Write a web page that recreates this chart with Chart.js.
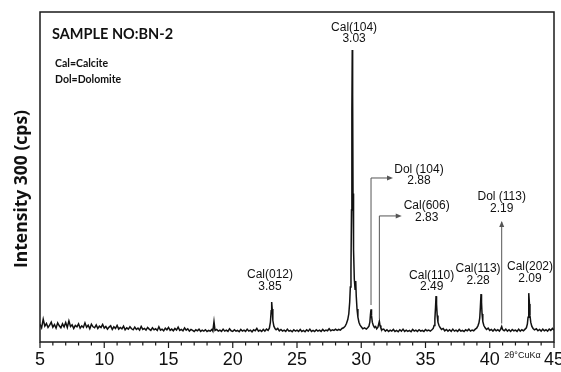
<!DOCTYPE html>
<html>
<head>
<meta charset="utf-8">
<script src="https://cdn.jsdelivr.net/npm/chart.js@4/dist/chart.umd.min.js"></script>
<style>
  html, body { margin: 0; padding: 0; background: #fff; }
  #caixa { position: relative; width: 561px; height: 372px; }
</style>
</head>
<body>
<div id="caixa"><canvas id="graficoXrd"></canvas></div>
<script>
// 2theta (deg) and intensity, one line of angles per line of counts
const angles = [
  5.000, 5.125, 5.250, 5.375, 5.500, 5.625, 5.750, 5.875, 6.000, 6.125, 6.250, 6.375,
  6.500, 6.625, 6.750, 6.875, 7.000, 7.125, 7.250, 7.375, 7.500, 7.625, 7.750, 7.875,
  8.000, 8.125, 8.250, 8.375, 8.500, 8.625, 8.750, 8.875, 9.000, 9.125, 9.250, 9.375,
  9.500, 9.625, 9.750, 9.875, 10.000, 10.125, 10.250, 10.375, 10.500, 10.625, 10.750, 10.875,
  11.000, 11.125, 11.250, 11.375, 11.500, 11.625, 11.750, 11.875, 12.000, 12.125, 12.250, 12.375,
  12.500, 12.625, 12.750, 12.875, 13.000, 13.125, 13.250, 13.375, 13.500, 13.625, 13.750, 13.875,
  14.000, 14.125, 14.250, 14.375, 14.500, 14.625, 14.750, 14.875, 15.000, 15.125, 15.250, 15.375,
  15.500, 15.625, 15.750, 15.875, 16.000, 16.125, 16.250, 16.375, 16.500, 16.625, 16.750, 16.875,
  17.000, 17.125, 17.250, 17.375, 17.500, 17.625, 17.750, 17.875, 18.000, 18.125, 18.250, 18.375,
  18.450, 18.540, 18.620, 18.750, 18.875, 19.000, 19.125, 19.250, 19.375, 19.500, 19.625, 19.750,
  19.875, 20.000, 20.125, 20.250, 20.375, 20.500, 20.625, 20.750, 20.875, 21.000, 21.125, 21.250,
  21.375, 21.500, 21.625, 21.750, 21.875, 22.000, 22.125, 22.250, 22.375, 22.500, 22.625, 22.750,
  22.850, 22.930, 22.990, 23.030, 23.070, 23.120, 23.200, 23.300,
  23.375, 23.500, 23.625, 23.750, 23.875, 24.000, 24.125, 24.250, 24.375, 24.500, 24.625, 24.750,
  24.875, 25.000, 25.125, 25.250, 25.375, 25.500, 25.625, 25.750, 25.875, 26.000, 26.125, 26.250,
  26.375, 26.500, 26.625, 26.750, 26.875, 27.000, 27.125, 27.250, 27.375, 27.500, 27.625, 27.750,
  27.875, 28.000, 28.125, 28.250, 28.375, 28.500,
  28.620, 28.750, 28.850, 28.950, 29.030, 29.100, 29.150, 29.200, 29.240, 29.270, 29.300, 29.330,
  29.360, 29.400, 29.460, 29.520, 29.570, 29.610, 29.670, 29.740, 29.820, 29.900, 30.000, 30.120,
  30.250, 30.400, 30.500,
  30.600, 30.670, 30.720, 30.760, 30.800, 30.860, 30.940, 31.030, 31.120, 31.200, 31.300, 31.360,
  31.410, 31.460, 31.530, 31.620,
  31.750, 31.875, 32.000, 32.125, 32.250, 32.375, 32.500, 32.625, 32.750, 32.875, 33.000, 33.125,
  33.250, 33.375, 33.500, 33.625, 33.750, 33.875, 34.000, 34.125, 34.250, 34.375, 34.500, 34.625,
  34.750, 34.875, 35.000, 35.125, 35.250, 35.375, 35.500,
  35.600, 35.670, 35.730, 35.780, 35.820, 35.860, 35.910, 35.970, 36.050, 36.150, 36.250,
  36.375, 36.500, 36.625, 36.750, 36.875, 37.000, 37.125, 37.250, 37.375, 37.500, 37.625, 37.750,
  37.875, 38.000, 38.125, 38.250, 38.375, 38.500, 38.625, 38.750, 38.875,
  38.980, 39.080, 39.160, 39.220, 39.270, 39.320, 39.360, 39.400, 39.460, 39.540, 39.640, 39.750,
  39.875, 40.000, 40.125, 40.250, 40.375, 40.500, 40.625, 40.750, 40.850, 40.930, 41.000, 41.125,
  41.250, 41.375, 41.500, 41.625, 41.750, 41.875, 42.000, 42.125, 42.250, 42.375, 42.500, 42.625,
  42.750,
  42.850, 42.930, 42.980, 43.020, 43.050, 43.090, 43.130, 43.190, 43.270, 43.370, 43.480,
  43.625, 43.750, 43.875, 44.000, 44.125, 44.250, 44.375, 44.500, 44.625, 44.750, 44.875, 45.000
];
const counts = [
  5.4, 4.3, 6.9, 4.8, 5.6, 4.4, 5.1, 6.0, 4.5, 5.3, 4.2, 5.8,
  4.9, 4.3, 5.5, 4.6, 5.9, 4.4, 6.4, 4.7, 5.2, 4.1, 5.0, 4.6,
  5.5, 4.2, 4.9, 4.4, 5.8, 4.5, 5.1, 4.0, 5.4, 4.6, 4.3, 5.2,
  4.1, 4.8, 4.4, 5.3, 4.2, 4.7, 3.9, 4.5, 4.9, 3.8, 4.6, 4.1,
  5.0, 3.9, 4.4, 4.0, 4.8, 3.7, 4.3, 3.9, 4.6, 4.0, 3.7, 4.5,
  3.8, 4.2, 3.6, 4.7, 3.8, 4.1, 3.6, 4.4, 3.9, 3.5, 4.3, 3.7,
  4.0, 3.5, 4.6, 3.6, 3.9, 3.4, 4.2, 3.7, 4.4, 3.5, 3.9, 3.4,
  4.1, 3.6, 4.5, 3.5, 3.8, 3.4, 4.3, 3.6, 4.0, 3.3, 3.8, 3.5,
  3.2, 3.7, 3.4, 3.9, 3.2, 3.6, 3.3, 3.7, 3.2, 3.5, 3.3, 3.8,
  3.3, 6.2, 3.5, 3.8, 3.3, 3.6, 3.2, 3.9, 3.3, 3.6, 3.2, 4.0,
  3.4, 3.2, 3.7, 3.3, 3.5, 3.1, 3.8, 3.3, 3.6, 3.2, 3.9, 3.3,
  3.6, 3.1, 3.7, 3.4, 4.1, 3.3, 3.6, 3.2, 3.8, 3.3, 3.9, 3.5,
  4.2, 6.0, 9.5, 12.1, 10.0, 6.5, 4.8, 4.0,
  3.7, 4.1, 3.4, 3.8, 3.3, 3.6, 3.2, 3.9, 3.3, 3.5, 3.1, 3.7,
  3.3, 3.6, 3.2, 3.8, 3.2, 3.5, 3.1, 3.7, 3.3, 3.9, 3.2, 3.5,
  3.2, 3.7, 3.3, 3.6, 3.2, 3.8, 3.3, 3.6, 3.4, 4.0, 3.4, 3.7,
  3.5, 3.9, 3.5, 3.8, 3.6, 4.1,
  4.3, 4.8, 5.6, 6.8, 8.5, 12.0, 16.7, 22.0, 40.0, 70.0, 88.5, 75.0,
  45.0, 28.0, 19.0, 16.0, 18.5, 14.0, 10.0, 7.5, 6.0, 5.2, 4.6, 4.0,
  4.3, 3.9, 4.3,
  4.8, 6.0, 8.5, 9.9, 8.0, 6.0, 5.0, 4.4, 4.7, 4.0, 4.5, 5.5,
  6.3, 5.0, 4.2, 3.7,
  3.9, 3.3, 3.7, 3.2, 3.6, 3.3, 3.8, 3.2, 3.5, 3.1, 3.7, 3.3,
  3.9, 3.2, 3.6, 3.2, 3.5, 3.1, 3.8, 3.3, 3.6, 3.2, 3.7, 3.3,
  3.5, 3.2, 3.8, 3.4, 3.6, 3.3, 3.7,
  4.1, 5.0, 7.0, 10.5, 13.9, 11.5, 8.0, 6.0, 5.0, 4.3, 3.8,
  4.1, 3.4, 3.8, 3.3, 3.7, 3.2, 3.9, 3.3, 3.6, 3.2, 3.8, 3.3,
  3.5, 3.2, 3.7, 3.4, 3.9, 3.3, 3.6, 3.4, 3.9,
  4.2, 4.9, 5.8, 7.2, 10.5, 14.5, 12.0, 8.5, 6.2, 5.0, 4.3, 3.8,
  4.2, 3.5, 3.8, 3.3, 3.9, 3.4, 3.7, 3.3, 3.9, 4.7, 3.8, 3.4,
  3.9, 3.3, 3.7, 3.2, 3.8, 3.4, 3.6, 3.2, 3.9, 3.3, 3.7, 3.4,
  3.9,
  4.3, 5.5, 7.5, 11.0, 14.8, 11.5, 8.0, 6.0, 4.8, 4.1, 3.7,
  4.0, 3.4, 3.8, 3.3, 3.9, 3.4, 3.7, 3.3, 3.9, 3.5, 4.1, 3.6
];

// peak labels
const peakNames = ["Cal(012)", "Cal(104)", "Dol (104)", "Cal(606)", "Cal(110)", "Cal(113)", "Dol (113)", "Cal(202)"];
const peakSpacings = ["3.85", "3.03", "2.88", "2.83", "2.49", "2.28", "2.19", "2.09"];
const peakAngles = [23.03, 29.30, 30.76, 31.41, 35.82, 39.32, 40.93, 43.05];

const tickLabels = [5, 10, 15, 20, 25, 30, 35, 40, 45];

// where each label sits (angle, intensity of first row) and how it is tied to the peak
const labelSpots = [
  { at: 22.90, level: 20.3 },
  { at: 29.44, level: 95.3 },
  { at: 34.49, level: 52.3, arrow: "right", from: 11.2, to: 49.7, tip: 32.47 },
  { at: 35.09, level: 41.2, arrow: "right", from: 6.9, to: 38.2, tip: 33.15 },
  { at: 35.48, level: 20.1 },
  { at: 39.09, level: 22.1 },
  { at: 40.93, level: 44.0, arrow: "up", from: 5.6, to: 36.4 },
  { at: 43.13, level: 22.8 }
];

const decoracao = {
  id: "decoracao",
  afterDatasetsDraw(chart) {
    const { ctx, chartArea, scales } = chart;
    const x = scales.x;
    const y = scales.y;
    ctx.save();

    // frame
    ctx.strokeStyle = "#1a1a1a";
    ctx.lineWidth = 1.5;
    ctx.strokeRect(chartArea.left, chartArea.top, chartArea.right - chartArea.left, chartArea.bottom - chartArea.top);

    // ticks, minor every degree
    ctx.lineWidth = 1.2;
    for (let t = tickLabels[0]; t <= tickLabels[tickLabels.length - 1]; t++) {
      const px = x.getPixelForValue(t);
      ctx.beginPath();
      ctx.moveTo(px, chartArea.bottom);
      ctx.lineTo(px, chartArea.bottom + (t % 5 === 0 ? 6 : 3.5));
      ctx.stroke();
    }
    ctx.fillStyle = "#111";
    ctx.font = "18px 'Liberation Sans', Arial, sans-serif";
    ctx.textAlign = "center";
    ctx.textBaseline = "middle";
    tickLabels.forEach((t) => {
      ctx.fillText(String(t), x.getPixelForValue(t), chartArea.bottom + 18);
    });
    ctx.font = "9px 'Liberation Sans', Arial, sans-serif";
    ctx.fillText("2\u03b8\u00b0CuK\u03b1", x.getPixelForValue(42.55), chartArea.bottom + 14);

    // axis title
    ctx.save();
    ctx.translate(22, (chartArea.top + chartArea.bottom) / 2 + 12);
    ctx.rotate(-Math.PI / 2);
    ctx.font = "bold 17.5px 'Open Sans', Lato, sans-serif";
    ctx.fillText("Intensity 300 (cps)", 0, 0);
    ctx.restore();

    // sample caption
    ctx.textAlign = "left";
    ctx.font = "bold 14.5px Lato, 'Open Sans', sans-serif";
    ctx.fillText("SAMPLE NO:BN-2", chartArea.left + 12, chartArea.top + 22);
    ctx.font = "bold 10.5px Lato, 'Open Sans', sans-serif";
    ctx.fillText("Cal=Calcite", chartArea.left + 15, chartArea.top + 52);
    ctx.fillText("Dol=Dolomite", chartArea.left + 15, chartArea.top + 68);

    // peak labels and arrows
    ctx.strokeStyle = "#555";
    ctx.fillStyle = "#555";
    ctx.lineWidth = 1;
    labelSpots.forEach((s, i) => {
      if (!s.arrow) return;
      const px = x.getPixelForValue(peakAngles[i]);
      const y0 = y.getPixelForValue(s.from);
      const y1 = y.getPixelForValue(s.to);
      ctx.beginPath();
      ctx.moveTo(px, y0);
      ctx.lineTo(px, y1);
      if (s.arrow === "right") {
        const tx = x.getPixelForValue(s.tip);
        ctx.lineTo(tx - 5, y1);
        ctx.stroke();
        ctx.beginPath();
        ctx.moveTo(tx, y1);
        ctx.lineTo(tx - 6, y1 - 2.5);
        ctx.lineTo(tx - 6, y1 + 2.5);
        ctx.closePath();
        ctx.fill();
      } else {
        ctx.stroke();
        ctx.beginPath();
        ctx.moveTo(px, y1 - 1);
        ctx.lineTo(px - 2.5, y1 + 5);
        ctx.lineTo(px + 2.5, y1 + 5);
        ctx.closePath();
        ctx.fill();
      }
    });
    ctx.fillStyle = "#111";
    ctx.textAlign = "center";
    ctx.font = "12px 'Liberation Sans', Arial, sans-serif";
    labelSpots.forEach((s, i) => {
      const px = x.getPixelForValue(s.at);
      const py = y.getPixelForValue(s.level);
      ctx.fillText(peakNames[i], px, py);
      ctx.fillText(peakSpacings[i], px, py + 11.5);
    });
    ctx.restore();
  }
};

const grafico = new Chart(document.getElementById("graficoXrd"), {
  type: "line",
  data: {
    datasets: [
      {
        data: angles.map((a, i) => ({ x: a, y: counts[i] })),
        borderColor: "#111",
        borderWidth: 1.5,
        pointRadius: 0,
        tension: 0,
      },
    ],
  },
  options: {
    responsive: true,
    maintainAspectRatio: false,
    animation: false,
    layout: { padding: { left: 40, right: 7, top: 12, bottom: 30 } },
    plugins: { legend: { display: false }, tooltip: { enabled: false } },
    scales: {
      x: { type: "linear", min: 5, max: 45, display: false },
      y: { min: 0, max: 100, display: false },
    },
  },
  plugins: [decoracao],
});
</script>
</body>
</html>
